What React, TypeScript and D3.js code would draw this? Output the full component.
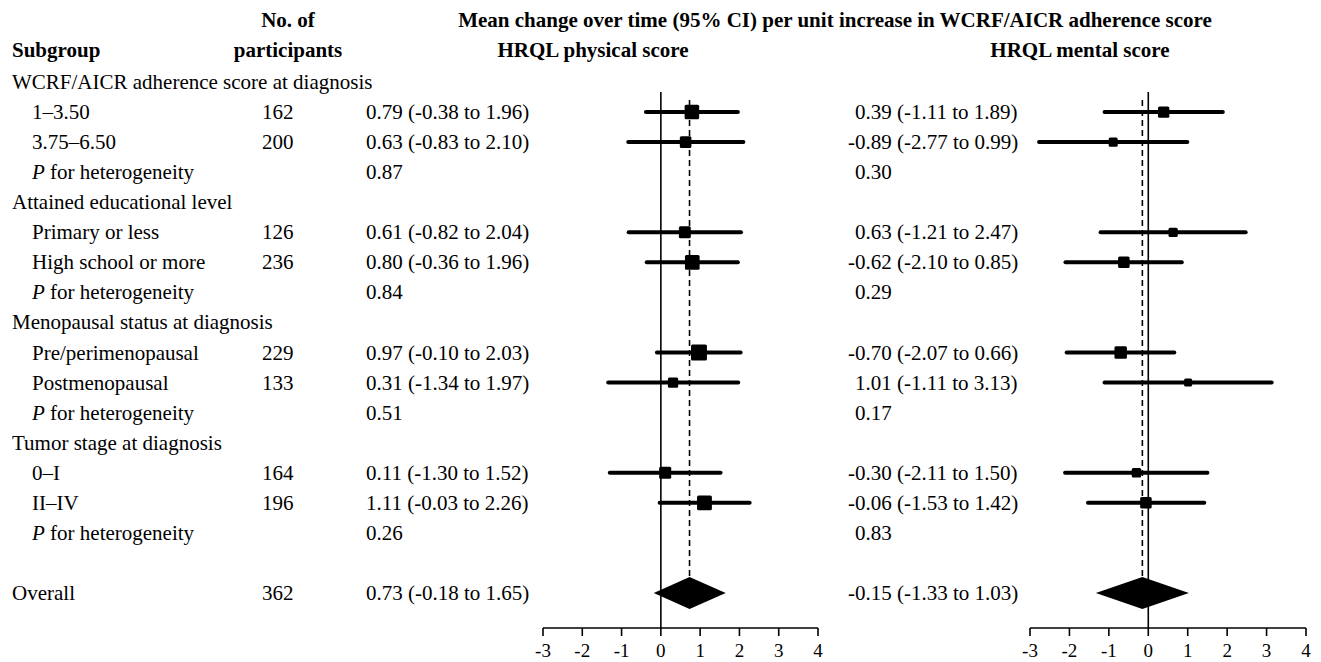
import React from "react";
import * as d3 from "d3";

// subgroup headings and their levels
const groupTitles = [
  "WCRF/AICR adherence score at diagnosis",
  "Attained educational level",
  "Menopausal status at diagnosis",
  "Tumor stage at diagnosis",
];
const levelNames = [
  ["1–3.50", "3.75–6.50"],
  ["Primary or less", "High school or more"],
  ["Pre/perimenopausal", "Postmenopausal"],
  ["0–I", "II–IV"],
];
const participants = [
  [162, 200],
  [126, 236],
  [229, 133],
  [164, 196],
];
// [estimate, lower, upper]
const physical = [
  [[0.79, -0.38, 1.96], [0.63, -0.83, 2.10]],
  [[0.61, -0.82, 2.04], [0.80, -0.36, 1.96]],
  [[0.97, -0.10, 2.03], [0.31, -1.34, 1.97]],
  [[0.11, -1.30, 1.52], [1.11, -0.03, 2.26]],
];
const mental = [
  [[0.39, -1.11, 1.89], [-0.89, -2.77, 0.99]],
  [[0.63, -1.21, 2.47], [-0.62, -2.10, 0.85]],
  [[-0.70, -2.07, 0.66], [1.01, -1.11, 3.13]],
  [[-0.30, -2.11, 1.50], [-0.06, -1.53, 1.42]],
];
const pPhysical = ["0.87", "0.84", "0.51", "0.26"];
const pMental = ["0.30", "0.29", "0.17", "0.83"];
const overallN = 362;
const overallPhysical = [0.73, -0.18, 1.65];
const overallMental = [-0.15, -1.33, 1.03];
const xTicks = [-3, -2, -1, 0, 1, 2, 3, 4];

const FONT = "'Liberation Serif', 'Times New Roman', serif";
const fmt = (v: number) => v.toFixed(2);
const ciText = (d: number[]) => `${fmt(d[0])} (${fmt(d[1])} to ${fmt(d[2])})`;

type Row = {
  kind: "group" | "level" | "p";
  label: string;
  n?: number;
  phys?: number[];
  ment?: number[];
  pp?: string;
  pm?: string;
};

const rows: Row[] = [];
groupTitles.forEach((g, gi) => {
  rows.push({ kind: "group", label: g });
  levelNames[gi].forEach((l, li) => {
    rows.push({ kind: "level", label: l, n: participants[gi][li], phys: physical[gi][li], ment: mental[gi][li] });
  });
  rows.push({ kind: "p", label: "for heterogeneity", pp: pPhysical[gi], pm: pMental[gi] });
});

const y = d3.scaleLinear().domain([0, 17]).range([82, 593]);
const xPhys = d3.scaleLinear().domain([-3, 4]).range([543, 818]);
const xMent = d3.scaleLinear().domain([-3, 4]).range([1030, 1306]);
const axisY = 628;

function Panel({ x, overall, key2 }: { x: d3.ScaleLinear<number, number>; overall: number[]; key2: "phys" | "ment" }) {
  const ov = x(overall[0]);
  const oy = y(17);
  return (
    <g>
      <line x1={x(0)} x2={x(0)} y1={92} y2={axisY} stroke="#000" strokeWidth={1.6} />
      <line x1={ov} x2={ov} y1={100} y2={oy - 16} stroke="#000" strokeWidth={1.6} strokeDasharray="6,4" />
      {rows.map((r, i) => {
        if (r.kind !== "level") return null;
        const d = r[key2] as number[];
        const s = 34 / (d[2] - d[1]);
        return (
          <g key={i}>
            <line x1={x(d[1])} x2={x(d[2])} y1={y(i)} y2={y(i)} stroke="#000" strokeWidth={4} strokeLinecap="round" />
            <rect x={x(d[0]) - s / 2} y={y(i) - s / 2} width={s} height={s} fill="#000" rx={1.5} />
          </g>
        );
      })}
      <path
        d={`M${x(overall[1])},${oy}L${ov},${oy - 16}L${x(overall[2])},${oy}L${ov},${oy + 16}Z`}
        fill="#000"
      />
      <line x1={x(-3)} x2={x(4)} y1={axisY} y2={axisY} stroke="#000" strokeWidth={1.6} />
      {xTicks.map((t) => (
        <g key={t}>
          <line x1={x(t)} x2={x(t)} y1={axisY} y2={axisY + 8} stroke="#000" strokeWidth={1.6} />
          <text x={x(t)} y={axisY + 29} textAnchor="middle" fontSize={19}>
            {t}
          </text>
        </g>
      ))}
    </g>
  );
}

export default function App() {
  const fs = 21;
  const physX = 366;
  const mentX = 855;
  const neg = (s: string) => (s.startsWith("-") ? -7 : 0);
  return (
    <svg
      width={1321}
      height={662}
      style={{ position: "absolute", left: 0, top: 0, background: "#fff" }}
      fontFamily={FONT}
    >
      <g fontWeight="bold" fontSize={21}>
        <text x={288} y={27} textAnchor="middle">No. of</text>
        <text x={12} y={57}>Subgroup</text>
        <text x={288} y={57} textAnchor="middle">participants</text>
        <text x={835} y={27} textAnchor="middle">
          Mean change over time (95% CI) per unit increase in WCRF/AICR adherence score
        </text>
        <text x={593} y={57} textAnchor="middle">HRQL physical score</text>
        <text x={1080} y={57} textAnchor="middle">HRQL mental score</text>
      </g>
      <g fontSize={fs}>
        {rows.map((r, i) => {
          const ty = y(i) + 7;
          if (r.kind === "group") return <text key={i} x={12} y={ty}>{r.label}</text>;
          if (r.kind === "p")
            return (
              <g key={i}>
                <text x={32} y={ty}>
                  <tspan fontStyle="italic">P</tspan> {r.label}
                </text>
                <text x={physX} y={ty}>{r.pp}</text>
                <text x={mentX} y={ty}>{r.pm}</text>
              </g>
            );
          const pt = ciText(r.phys!);
          const mt = ciText(r.ment!);
          return (
            <g key={i}>
              <text x={32} y={ty}>{r.label}</text>
              <text x={262} y={ty}>{r.n}</text>
              <text x={physX + neg(pt)} y={ty}>{pt}</text>
              <text x={mentX + neg(mt)} y={ty}>{mt}</text>
            </g>
          );
        })}
        <text x={12} y={y(17) + 7}>Overall</text>
        <text x={262} y={y(17) + 7}>{overallN}</text>
        <text x={physX} y={y(17) + 7}>{ciText(overallPhysical)}</text>
        <text x={mentX + neg(ciText(overallMental))} y={y(17) + 7}>{ciText(overallMental)}</text>
      </g>
      <Panel x={xPhys} overall={overallPhysical} key2="phys" />
      <Panel x={xMent} overall={overallMental} key2="ment" />
    </svg>
  );
}
